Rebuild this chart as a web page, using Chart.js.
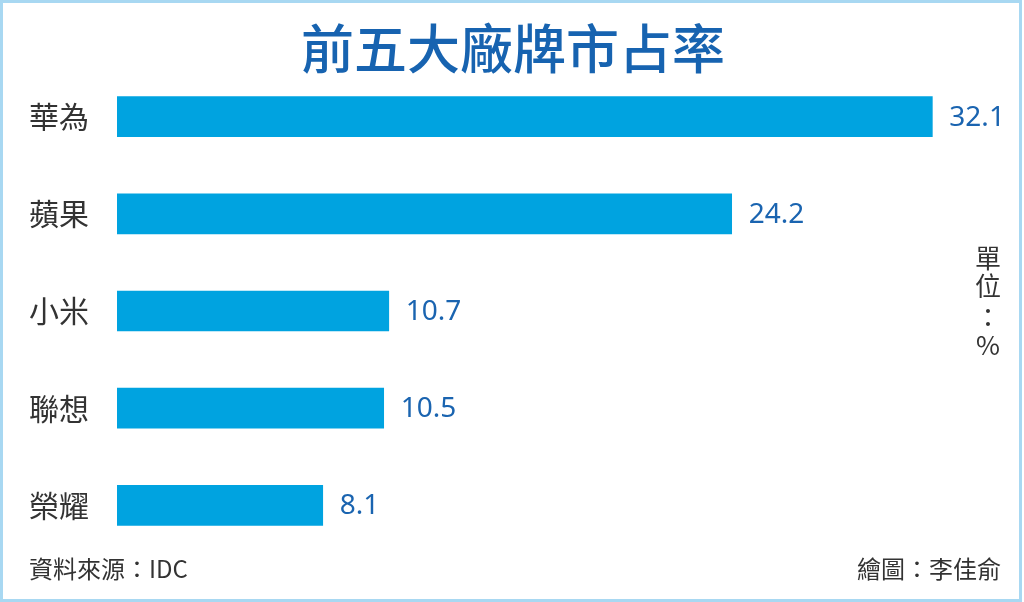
<!DOCTYPE html>
<html>
<head>
<meta charset="utf-8">
<script src="https://cdn.jsdelivr.net/npm/chart.js@4"></script>
<style>
  html, body { margin: 0; padding: 0; background: #fff; }
  #wrap { width: 1024px; height: 602px; position: relative; }
</style>
</head>
<body>
<div id="wrap"><canvas id="share-chart"></canvas></div>
<script>
const brands = ['華為', '蘋果', '小米', '聯想', '榮耀'];
const shares = [32.1, 24.2, 10.7, 10.5, 8.1];
const titleText = '前五大廠牌市占率';
const unitChars = ['單', '位', '：', '%'];
const sourceText = '資料來源：IDC';
const creditText = '繪圖：李佳俞';

const CJK = '"Noto Sans CJK TC", "Noto Sans", sans-serif';

// 標題、數值、單位、來源等文字
const decorations = {
    id: 'decorations',
    afterDatasetsDraw(chart) {
        const c = chart.ctx;
        const meta = chart.getDatasetMeta(0);
        c.save();

        // 外框
        c.strokeStyle = '#a8d8f2';
        c.lineWidth = 3;
        c.strokeRect(1.5, 1.5, chart.width - 5, chart.height - 3);

        // 標題
        c.fillStyle = '#1763b0';
        c.font = '500 53px ' + CJK;
        c.textAlign = 'center';
        c.textBaseline = 'middle';
        c.fillText(titleText, 513, 49);

        // 數值標籤
        c.fillStyle = '#1a64b0';
        c.font = '28px "Noto Sans", sans-serif';
        c.textAlign = 'left';
        meta.data.forEach((bar, i) => {
            c.fillText(shares[i].toFixed(1), bar.x + 17, bar.y + 1);
        });

        // 單位（直排）
        c.fillStyle = '#333';
        c.font = '26px ' + CJK;
        c.textAlign = 'center';
        const unitY = [258, 286, 317, 345];
        unitChars.forEach((ch, i) => c.fillText(ch, 988, unitY[i]));

        // 來源與繪圖
        c.font = '24px ' + CJK;
        c.textAlign = 'left';
        c.fillText(sourceText, 29, 569);
        c.textAlign = 'right';
        c.fillText(creditText, 1001, 569);

        c.restore();
    }
};

const ctx = document.getElementById('share-chart').getContext('2d');

const shareChart = new Chart(ctx, {
    type: 'bar',
    data: {
        labels: brands,
        datasets: [{
            data: shares,
            backgroundColor: '#00a3e0',
            borderWidth: 0,
            barThickness: 40,
        }]
    },
    options: {
        indexAxis: 'y',
        responsive: true,
        maintainAspectRatio: false,
        animation: false,
        layout: {
            padding: { left: 29, right: 18, top: 68, bottom: 48 }
        },
        scales: {
            x: {
                display: false,
                min: 0,
                max: 35,
            },
            y: {
                grid: { display: false },
                border: { display: false },
                afterFit(scale) {
                    scale.width = 88; // 讓長條從 x=117 開始
                },
                ticks: {
                    crossAlign: 'far',
                    color: '#333',
                    font: { family: CJK, size: 30 },
                }
            }
        },
        plugins: {
            legend: { display: false },
            tooltip: { enabled: false }
        }
    },
    plugins: [decorations]
});
</script>
</body>
</html>
